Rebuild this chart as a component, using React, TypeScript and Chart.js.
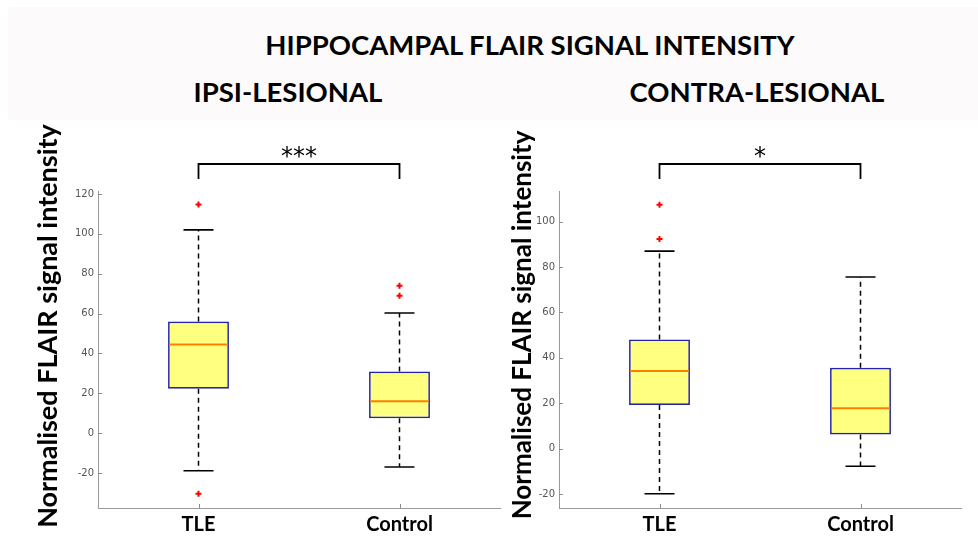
import React, { useEffect, useRef } from 'react';
import { Chart, registerables } from 'chart.js';

Chart.register(...registerables);

const categories = ['TLE', 'Control'];

// IPSI-LESIONAL panel
const ipsiQ1 = [22.3, 7.5];
const ipsiMedian = [44.5, 16.1];
const ipsiQ3 = [56, 31];
const ipsiLowerWhisker = [-18.8, -16.9];
const ipsiUpperWhisker = [102, 60.3];
const ipsiOutliersTLE = [114.7, -30.3];
const ipsiOutliersControl = [74, 69];
const ipsiSignificance = '***';
const ipsiYRange = [-37.5, 121.5];
const ipsiYTicks = [-20, 0, 20, 40, 60, 80, 100, 120];

// CONTRA-LESIONAL panel
const contraQ1 = [19.2, 6.2];
const contraMedian = [34.2, 17.8];
const contraQ3 = [48.1, 35.6];
const contraLowerWhisker = [-19.9, -7.8];
const contraUpperWhisker = [87, 75.6];
const contraOutliersTLE = [107.4, 92.4];
const contraOutliersControl: number[] = [];
const contraSignificance = '*';
const contraYRange = [-26.2, 113.5];
const contraYTicks = [-20, 0, 20, 40, 60, 80, 100];

const mainTitle = 'HIPPOCAMPAL FLAIR SIGNAL INTENSITY';
const ipsiTitle = 'IPSI-LESIONAL';
const contraTitle = 'CONTRA-LESIONAL';
const yAxisTitle = 'Normalised FLAIR signal intensity';

const FONT = 'Lato, "DejaVu Sans", sans-serif';

type Panel = {
  q1: number[];
  median: number[];
  q3: number[];
  lower: number[];
  upper: number[];
  outliers: number[][];
  significance: string;
  yRange: number[];
  yTicks: number[];
  yAxisWidth: number;
  padRight: number;
};

const decorPlugin = {
  id: 'boxDecor',
  afterDraw(chart: any, _args: any, opts: any) {
    const ctx = chart.ctx;
    const area = chart.chartArea;
    const xs = chart.scales.x;
    const ys = chart.scales.y;
    ctx.save();
    // inward tick marks
    ctx.strokeStyle = '#8c8c8c';
    ctx.lineWidth = 1;
    ys.ticks.forEach((t: any) => {
      const py = Math.round(ys.getPixelForValue(t.value)) + 0.5;
      ctx.beginPath();
      ctx.moveTo(area.left, py);
      ctx.lineTo(area.left + 4, py);
      ctx.stroke();
    });
    categories.forEach((_c, i) => {
      const px = Math.round(xs.getPixelForValue(i)) + 0.5;
      ctx.beginPath();
      ctx.moveTo(px, area.bottom);
      ctx.lineTo(px, area.bottom - 4);
      ctx.stroke();
    });
    // significance bracket
    const x0 = xs.getPixelForValue(0);
    const x1 = xs.getPixelForValue(1);
    const yLine = area.top - 27;
    const yEnd = area.top - 12;
    ctx.strokeStyle = '#000';
    ctx.lineWidth = 1.8;
    ctx.beginPath();
    ctx.moveTo(x0, yEnd);
    ctx.lineTo(x0, yLine);
    ctx.lineTo(x1, yLine);
    ctx.lineTo(x1, yEnd);
    ctx.stroke();
    ctx.fillStyle = '#000';
    ctx.font = '24px "DejaVu Sans", sans-serif';
    ctx.textAlign = 'center';
    ctx.textBaseline = 'alphabetic';
    const m = ctx.measureText(opts.significance);
    const cy = area.top - 39;
    ctx.fillText(
      opts.significance,
      (x0 + x1) / 2,
      cy + (m.actualBoundingBoxAscent - m.actualBoundingBoxDescent) / 2
    );
    ctx.restore();
  },
};

function makeConfig(p: Panel): any {
  const whiskerData: any[] = [];
  const capData: any[] = [];
  const medianData: any[] = [];
  const outlierData: any[] = [];
  categories.forEach((c, i) => {
    whiskerData.push({ x: c, y: p.q3[i] }, { x: c, y: p.upper[i] }, { x: c, y: null });
    whiskerData.push({ x: c, y: p.q1[i] }, { x: c, y: p.lower[i] }, { x: c, y: null });
    capData.push({ x: c, y: p.upper[i] }, { x: c, y: p.lower[i] });
    medianData.push({ x: c, y: p.median[i] });
    p.outliers[i].forEach((v) => outlierData.push({ x: c, y: v }));
  });
  return {
    type: 'bar',
    data: {
      labels: categories,
      datasets: [
        {
          type: 'line',
          label: 'whiskers',
          data: whiskerData,
          borderColor: '#000',
          borderWidth: 1.5,
          borderDash: [5, 4],
          pointRadius: 0,
          spanGaps: false,
          fill: false,
          order: 5,
        },
        {
          type: 'bar',
          label: 'box',
          data: categories.map((_c, i) => [p.q1[i], p.q3[i]]),
          backgroundColor: '#ffff80',
          borderColor: '#2424a8',
          borderWidth: 1.7,
          borderSkipped: false,
          barPercentage: 0.303,
          categoryPercentage: 1,
          order: 4,
        },
        {
          type: 'line',
          label: 'caps',
          data: capData,
          showLine: false,
          pointStyle: 'line',
          pointRadius: 15,
          pointBorderColor: '#000',
          pointBorderWidth: 1.6,
          order: 3,
        },
        {
          type: 'line',
          label: 'median',
          data: medianData,
          showLine: false,
          pointStyle: 'line',
          pointRadius: 29.5,
          pointBorderColor: '#ff8000',
          pointBorderWidth: 2,
          order: 2,
        },
        {
          type: 'line',
          label: 'outliers',
          data: outlierData,
          showLine: false,
          pointStyle: 'cross',
          pointRadius: 3,
          pointBorderColor: '#ff0000',
          pointBorderWidth: 2,
          order: 1,
        },
      ],
    },
    options: {
      animation: false,
      responsive: false,
      events: [],
      layout: { autoPadding: false, padding: { left: 0, right: p.padRight, top: 66, bottom: 0 } },
      plugins: {
        legend: { display: false },
        tooltip: { enabled: false },
        boxDecor: { significance: p.significance },
      },
      scales: {
        x: {
          type: 'category',
          offset: true,
          grid: { display: false, drawTicks: false },
          border: { display: true, color: '#999', width: 1 },
          ticks: {
            color: '#000',
            padding: 5,
            font: { family: FONT, size: 20, weight: 'bold' },
          },
          afterFit(scale: any) {
            scale.height = 28;
            scale.paddingLeft = 0;
            scale.paddingRight = 0;
          },
        },
        y: {
          type: 'linear',
          min: p.yRange[0],
          max: p.yRange[1],
          grid: { display: false, drawTicks: false },
          border: { display: true, color: '#999', width: 1 },
          ticks: {
            color: '#555',
            padding: 4,
            font: { family: '"DejaVu Sans", sans-serif', size: 10 },
          },
          afterBuildTicks(scale: any) {
            scale.ticks = p.yTicks.map((v) => ({ value: v }));
          },
          afterFit(scale: any) {
            scale.width = p.yAxisWidth;
            scale.paddingTop = 0;
            scale.paddingBottom = 0;
          },
        },
      },
    },
    plugins: [decorPlugin],
  };
}

function BoxChart({ panel, width, height }: { panel: Panel; width: number; height: number }) {
  const ref = useRef<HTMLCanvasElement | null>(null);
  useEffect(() => {
    if (!ref.current) return;
    const chart = new Chart(ref.current, makeConfig(panel));
    return () => chart.destroy();
  }, [panel]);
  return <canvas ref={ref} width={width} height={height} style={{ width, height, display: 'block' }} />;
}

const ipsiPanel: Panel = {
  q1: ipsiQ1,
  median: ipsiMedian,
  q3: ipsiQ3,
  lower: ipsiLowerWhisker,
  upper: ipsiUpperWhisker,
  outliers: [ipsiOutliersTLE, ipsiOutliersControl],
  significance: ipsiSignificance,
  yRange: ipsiYRange,
  yTicks: ipsiYTicks,
  yAxisWidth: 98,
  padRight: 5,
};

const contraPanel: Panel = {
  q1: contraQ1,
  median: contraMedian,
  q3: contraQ3,
  lower: contraLowerWhisker,
  upper: contraUpperWhisker,
  outliers: [contraOutliersTLE, contraOutliersControl],
  significance: contraSignificance,
  yRange: contraYRange,
  yTicks: contraYTicks,
  yAxisWidth: 54,
  padRight: 17,
};

const textStyle: React.CSSProperties = {
  position: 'absolute',
  fontFamily: FONT,
  fontWeight: 700,
  color: '#000',
  whiteSpace: 'nowrap',
  textAlign: 'center',
};

export default function App() {
  return (
    <div
      style={{
        position: 'fixed',
        left: 0,
        top: 0,
        width: 978,
        height: 536,
        background: '#fff',
        overflow: 'hidden',
      }}
    >
      <div style={{ position: 'absolute', left: 8, top: 7, width: 970, height: 113, background: '#fcfafa' }} />
      <div style={{ ...textStyle, left: 230, width: 600, top: 29, height: 32, lineHeight: '32px', fontSize: 27.5 }}>
        {mainTitle}
      </div>
      <div style={{ ...textStyle, left: 88, width: 400, top: 76, height: 32, lineHeight: '32px', fontSize: 27.5 }}>
        {ipsiTitle}
      </div>
      <div style={{ ...textStyle, left: 557, width: 400, top: 76, height: 32, lineHeight: '32px', fontSize: 27.5 }}>
        {contraTitle}
      </div>
      <div style={{ position: 'absolute', left: 0, top: 125 }}>
        <BoxChart panel={ipsiPanel} width={505} height={411} />
      </div>
      <div style={{ position: 'absolute', left: 505, top: 125 }}>
        <BoxChart panel={contraPanel} width={473} height={411} />
      </div>
      <div
        style={{
          ...textStyle,
          left: 47 - 220,
          top: 326 - 17,
          width: 440,
          height: 34,
          lineHeight: '34px',
          fontSize: 27,
          transform: 'rotate(-90deg)',
        }}
      >
        {yAxisTitle}
      </div>
      <div
        style={{
          ...textStyle,
          left: 521 - 220,
          top: 325 - 17,
          width: 440,
          height: 34,
          lineHeight: '34px',
          fontSize: 26,
          transform: 'rotate(-90deg)',
        }}
      >
        {yAxisTitle}
      </div>
    </div>
  );
}
